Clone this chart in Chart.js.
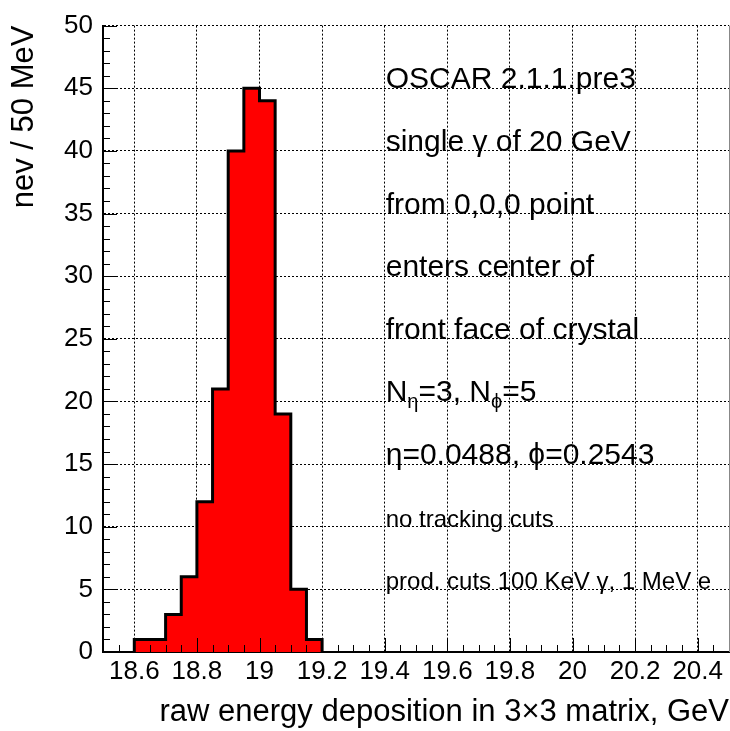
<!DOCTYPE html>
<html>
<head>
<meta charset="utf-8">
<script src="https://cdn.jsdelivr.net/npm/chart.js"></script>
<style>
  html, body { margin: 0; padding: 0; background: #fff; }
  #wrap { width: 730px; height: 731px; }
</style>
</head>
<body>
<div id="wrap"><canvas id="myHisto"></canvas></div>

<script>
  // histogram bins (GeV) and counts per 50 MeV bin
  const binEdges = [18.6, 18.65, 18.7, 18.75, 18.8, 18.85, 18.9, 18.95, 19.0, 19.05, 19.1, 19.15, 19.2];
  const counts = [1, 1, 3, 6, 12, 21, 40, 45, 44, 19, 5, 1];

  // axis ticks
  const xTicks = [18.6, 18.8, 19.0, 19.2, 19.4, 19.6, 19.8, 20.0, 20.2, 20.4];
  const yTicks = [0, 5, 10, 15, 20, 25, 30, 35, 40, 45, 50];

  // text box lines (segments marked sub are subscripts)
  const infoLines = [
    [{ t: 'OSCAR 2.1.1.pre3' }],
    [{ t: 'single \u03b3 of 20 GeV' }],
    [{ t: 'from 0,0,0 point' }],
    [{ t: 'enters center of' }],
    [{ t: 'front face of crystal' }],
    [{ t: 'N' }, { t: '\u03b7', sub: true }, { t: '=3, N' }, { t: '\u03d5', sub: true }, { t: '=5' }],
    [{ t: '\u03b7=0.0488, \u03d5=0.2543' }],
    [{ t: 'no tracking cuts', small: true }],
    [{ t: 'prod. cuts 100 KeV \u03b3, 1 MeV e', small: true }]
  ];

  const FONT = 'Liberation Sans, Arial, Helvetica, sans-serif';

  // outline of the histogram as a stepped line
  const stepPoints = [{ x: binEdges[0], y: 0 }];
  counts.forEach((c, i) => stepPoints.push({ x: binEdges[i + 1], y: c }));
  stepPoints.push({ x: binEdges[binEdges.length - 1], y: 0 });

  // ROOT-like inner ticks (minor + major) and the text box
  const rootStyle = {
    id: 'rootStyle',
    afterDraw(chart) {
      const ctx = chart.ctx;
      const xs = chart.scales.x, ys = chart.scales.y;
      const area = chart.chartArea;
      ctx.save();
      ctx.strokeStyle = '#000';
      ctx.lineWidth = 1;
      ctx.beginPath();
      // x ticks every 0.05
      for (let k = 0; k <= 40; k++) {
        const v = xs.min + k * 0.05;
        const px = Math.round(xs.getPixelForValue(v)) + 0.5;
        const len = (k % 4 === 2) ? 14 : 7;
        ctx.moveTo(px, area.bottom);
        ctx.lineTo(px, area.bottom - len);
      }
      // y ticks every 1
      for (let v = ys.min; v <= ys.max; v++) {
        const py = Math.round(ys.getPixelForValue(v)) + 0.5;
        const len = (v % 5 === 0) ? 14 : 7;
        ctx.moveTo(area.left, py);
        ctx.lineTo(area.left + len, py);
      }
      ctx.stroke();

      // thin frame line on the right side
      ctx.strokeStyle = '#888';
      ctx.beginPath();
      ctx.moveTo(area.right + 0.5, area.top);
      ctx.lineTo(area.right + 0.5, area.bottom);
      ctx.stroke();

      // text lines, baselines on the y grid lines starting from 45
      ctx.fillStyle = '#000';
      ctx.textBaseline = 'alphabetic';
      ctx.textAlign = 'left';
      infoLines.forEach((segs, i) => {
        let px = xs.getPixelForValue(19.4) + 1;
        const py = ys.getPixelForValue(45 - 5 * i);
        segs.forEach(s => {
          const size = s.sub ? 20 : (s.small ? 24 : 30);
          ctx.font = size + 'px ' + FONT;
          ctx.fillText(s.t, px, s.sub ? py + 7 : py);
          px += ctx.measureText(s.t).width;
        });
      });
      ctx.restore();
    }
  };

  const ctxHisto = document.getElementById('myHisto');

  new Chart(ctxHisto, {
    type: 'line',
    data: {
      datasets: [{
        data: stepPoints,
        stepped: 'after',
        backgroundColor: '#ff0000',
        borderColor: '#000000',
        borderWidth: 3,
        borderJoinStyle: 'miter',
        fill: 'origin',
        pointRadius: 0,
        tension: 0
      }]
    },
    options: {
      responsive: true,
      maintainAspectRatio: false,
      animation: false,
      layout: { padding: { top: 17, right: 1, left: 0, bottom: 0 } },
      plugins: {
        legend: { display: false },
        tooltip: { enabled: false }
      },
      scales: {
        x: {
          type: 'linear',
          min: 18.5,
          max: 20.5,
          z: 1,
          afterBuildTicks: s => { s.ticks = xTicks.map(v => ({ value: v })); },
          afterFit: s => { s.height = 79; },
          grid: { color: '#000', lineWidth: 1, drawTicks: false },
          border: { display: true, color: '#000', width: 2, dash: [2, 2] },
          ticks: {
            autoSkip: false,
            maxRotation: 0,
            padding: 4,
            color: '#000',
            font: { family: FONT, size: 26 },
            callback: v => String(Math.round(v * 10) / 10)
          },
          title: {
            display: true,
            text: 'raw energy deposition in 3\u00d73 matrix, GeV',
            align: 'end',
            color: '#000',
            font: { family: FONT, size: 31 },
            padding: { top: 0, bottom: 0 }
          }
        },
        y: {
          min: 0,
          max: 50,
          z: 1,
          afterBuildTicks: s => { s.ticks = yTicks.map(v => ({ value: v })); },
          afterFit: s => { s.width = 103; },
          grid: { color: '#000', lineWidth: 1, drawTicks: false },
          border: { display: true, color: '#000', width: 2, dash: [2, 2] },
          ticks: {
            padding: 10,
            color: '#000',
            font: { family: FONT, size: 26 }
          },
          title: {
            display: true,
            text: 'nev / 50 MeV',
            align: 'end',
            color: '#000',
            font: { family: FONT, size: 31 },
            padding: { top: 6, bottom: 0 }
          }
        }
      }
    },
    plugins: [rootStyle]
  });
</script>
</body>
</html>
